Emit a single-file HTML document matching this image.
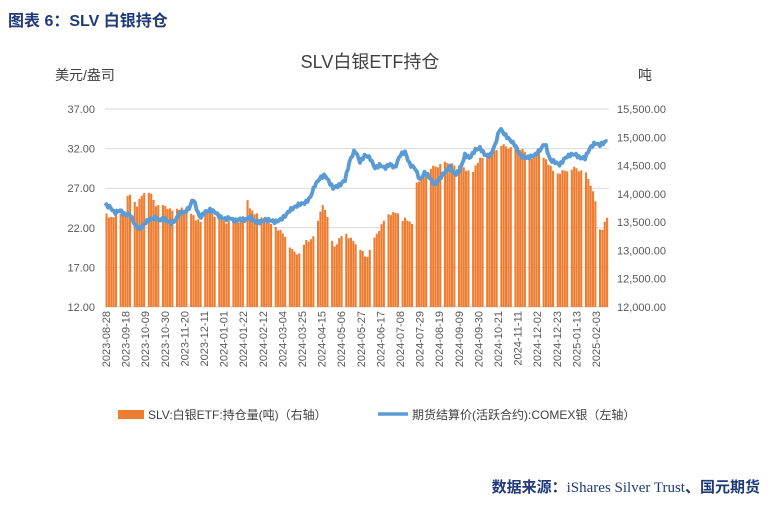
<!DOCTYPE html>
<html><head><meta charset="utf-8"><style>
body{margin:0;width:771px;height:505px;background:#fff;overflow:hidden;font-family:"Liberation Sans","Noto Sans CJK SC",sans-serif}
</style></head><body>
<svg id="s" width="771" height="505" xmlns="http://www.w3.org/2000/svg" font-family="Liberation Sans, Noto Sans CJK SC, sans-serif">
<text x="8" y="26" font-size="16" fill="#1f3a78" font-weight="bold">图表 6：SLV 白银持仓</text>
<text x="370" y="68" font-size="18" fill="#404040" text-anchor="middle">SLV白银ETF持仓</text>
<text x="55" y="80" font-size="14" fill="#404040">美元/盎司</text>
<text x="638" y="80" font-size="14" fill="#404040">吨</text>
<g id="grid"></g><g id="bars"></g><g id="ln"></g><g id="lab"></g>
<rect x="118" y="410" width="26" height="9" fill="#ed7d31"/>
<text x="148" y="419" font-size="12" fill="#404040">SLV:白银ETF:持仓量(吨)（右轴）</text>
<line x1="378" y1="414" x2="408" y2="414" stroke="#5b9bd5" stroke-width="3.5"/>
<text x="412" y="419" font-size="12" fill="#404040">期货结算价(活跃合约):COMEX银（左轴）</text>
<text x="760" y="492" font-size="15" fill="#1f3a78" text-anchor="end" font-weight="bold">数据来源：<tspan font-family="Liberation Serif, serif" font-weight="normal">iShares Silver Trust</tspan>、国元期货</text>
</svg>
<script>
var NS="http://www.w3.org/2000/svg";
function el(p,t,a,tx){var e=document.createElementNS(NS,t);for(var k in a)e.setAttribute(k,a[k]);if(tx)e.textContent=tx;document.getElementById(p).appendChild(e);return e;}
var L=["37.00","32.00","27.00","22.00","17.00","12.00"],R=["15,500.00","15,000.00","14,500.00","14,000.00","13,500.00","13,000.00","12,500.00","12,000.00"];
for(var i=0;i<6;i++){var y=109+i*39.6;el("grid","line",{x1:105,x2:609,y1:y,y2:y,stroke:"#d9d9d9"});el("grid","text",{x:95,y:y+4,"font-size":11,fill:"#595959","text-anchor":"end"},L[i]);}
for(var i=0;i<8;i++){var y=109+i*28.29;el("grid","text",{x:617,y:y+4,"font-size":11,fill:"#595959"},R[i]);}
function interp(P,x){for(var i=0;i<P.length-1;i++){if(x<=P[i+1][0]){var t=(x-P[i][0])/(P[i+1][0]-P[i][0]);return P[i][1]+t*(P[i+1][1]-P[i][1]);}}return P[P.length-1][1];}
var B=[[105,213],[110,218],[120,212],[125,213],[127,194],[132,196],[135,208],[140,197],[145,188],[150,195],[155,205],[160,207],[165,206],[170,210],[180,208],[190,212],[195,220],[200,222],[205,210],[210,213],[220,219],[225,222],[240,221],[243,220],[245,196],[250,210],[255,215],[260,215],[265,222],[270,224],[280,232],[285,236],[290,250],[300,255],[305,240],[310,240],[315,230],[320,207],[323,205],[328,225],[333,248],[338,240],[343,232],[348,238],[355,243],[360,250],[365,258],[370,248],[375,235],[380,226],[385,215],[395,212],[400,220],[405,218],[410,225],[413,222],[415,184],[430,168],[445,163],[460,166],[470,174],[478,160],[490,153],[500,145],[510,148],[517,147],[525,152],[530,158],[540,152],[548,165],[555,175],[565,170],[575,168],[585,174],[590,185],[595,203],[598,230],[602,228],[605,218],[609,214]];
var n=0;for(var x=105.5;x<608;x+=2.35){n++;if(n%6==0)continue;var y=interp(B,x)+((n*7)%5-2)*0.8;el("bars","rect",{x:x,y:y,width:2.1,height:307-y,fill:"#ed7d31"});}
var P=[[105,205],[110,207],[115,213],[120,210],[125,215],[130,214],[135,225],[140,229],[145,223],[150,219],[155,218],[160,220],[165,219],[170,223],[175,221],[180,213],[185,212],[190,207],[193,198],[197,210],[200,218],[205,212],[210,210],[215,212],[220,217],[225,219],[230,218],[235,221],[240,219],[245,220],[250,217],[255,222],[260,222],[265,220],[270,220],[275,222],[280,220],[285,216],[290,210],[295,207],[300,204],[305,203],[310,198],[315,185],[320,178],[325,175],[328,180],[333,188],[340,185],[345,180],[350,160],[355,150],[360,162],[365,155],[370,158],[375,168],[380,165],[385,168],[390,164],[395,168],[400,155],[405,152],[410,165],[415,168],[420,180],[425,172],[430,178],[435,185],[440,178],[445,172],[450,167],[455,175],[460,170],[465,155],[470,158],[475,150],[480,148],[485,155],[490,156],[495,145],[500,128],[505,135],[510,140],[515,145],[520,155],[525,158],[530,157],[535,155],[540,150],[545,143],[550,160],[555,162],[560,165],[565,158],[570,155],[575,154],[580,158],[585,158],[590,148],[595,143],[600,145],[605,142],[608,140]];
var d="";for(var x=105;x<=608;x+=1.5){var y=interp(P,x)+Math.sin(x*1.7)*1.5;d+=(d?"L":"M")+x.toFixed(1)+","+y.toFixed(1);}
el("ln","path",{d:d,fill:"none",stroke:"#5b9bd5","stroke-width":3.8,"stroke-linejoin":"round"});
var D=["2023-08-28","2023-09-18","2023-10-09","2023-10-30","2023-11-20","2023-12-11","2024-01-01","2024-01-22","2024-02-12","2024-03-04","2024-03-25","2024-04-15","2024-05-06","2024-05-27","2024-06-17","2024-07-08","2024-07-29","2024-08-19","2024-09-09","2024-09-30","2024-10-21","2024-11-11","2024-12-02","2024-12-23","2025-01-13","2025-02-03"];
for(var i=0;i<D.length;i++){var x=106+i*19.6;el("lab","text",{x:0,y:0,"font-size":11,fill:"#595959","text-anchor":"end",transform:"translate("+(x+4)+",311) rotate(-90)"},D[i]);}
</script>
</body></html>
